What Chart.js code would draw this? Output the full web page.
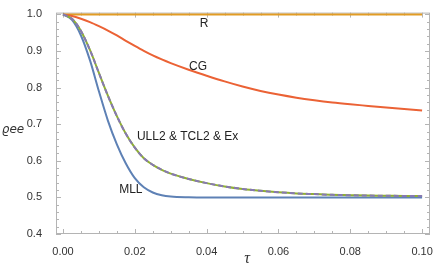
<!DOCTYPE html>
<html><head><meta charset="utf-8">
<script src="https://cdn.jsdelivr.net/npm/chart.js@4/dist/chart.umd.min.js"></script>
<style>html,body{margin:0;padding:0;background:#fff}#wrap{width:436px;height:268px}</style>
</head><body><div id="wrap"><canvas id="c" width="436" height="268"></canvas></div>
<script>
const tau = [0,0.0025,0.005,0.0075,0.01,0.0125,0.015,0.0175,0.02,0.0225,0.025,0.0275,0.03,0.035,0.04,0.045,0.05,0.055,0.06,0.065,0.07,0.075,0.08,0.085,0.09,0.095,0.1];
const rhoR   = [0.9995,0.9995,0.9995,0.9995,0.9995,0.9995,0.9995,0.9995,0.9995,0.9995,0.9995,0.9995,0.9995,0.9995,0.9995,0.9995,0.9995,0.9995,0.9995,0.9995,0.9995,0.9995,0.9995,0.9995,0.9995,0.9995,0.9995];
const rhoCG  = [1,0.9955,0.988,0.979,0.968,0.956,0.9425,0.928,0.914,0.9005,0.888,0.877,0.867,0.849,0.8325,0.817,0.803,0.791,0.781,0.7725,0.7655,0.7595,0.7545,0.75,0.7455,0.7415,0.7375];
const rhoMLL = [1,0.985,0.9425,0.875,0.79,0.71,0.645,0.5925,0.5525,0.5275,0.5135,0.506,0.5025,0.5005,0.5,0.5,0.5,0.5,0.5,0.5,0.5,0.5,0.5,0.5,0.5,0.5,0.5];
const rhoULL2 = [1,0.988,0.955,0.903,0.84,0.778,0.722,0.674,0.636,0.607,0.589,0.5755,0.565,0.5505,0.539,0.530,0.523,0.518,0.514,0.511,0.509,0.507,0.506,0.505,0.5045,0.504,0.504];
const rhoTCL2 = [1,0.988,0.955,0.903,0.84,0.778,0.722,0.674,0.636,0.607,0.589,0.5755,0.565,0.5505,0.539,0.530,0.523,0.518,0.514,0.511,0.509,0.507,0.506,0.505,0.5045,0.504,0.504];
const xTicks = [0,0.02,0.04,0.06,0.08,0.1];
const xTickLabels = ["0.00","0.02","0.04","0.06","0.08","0.10"];
const yTicks = [0.4,0.5,0.6,0.7,0.8,0.9,1.0];
const yTickLabels = ["0.4","0.5","0.6","0.7","0.8","0.9","1.0"];

const pts = v => tau.map((t,i)=>({x:t,y:v[i]}));

const frame = {
  id:'frame',
  beforeDatasetsDraw(chart){
    const {ctx, chartArea:a, scales:{x,y}} = chart;
    ctx.save();
    ctx.strokeStyle = '#b4b4b4'; ctx.lineWidth = 1;
    ctx.strokeRect(a.left+0.5, a.top+0.5, a.right-a.left-1, a.bottom-a.top-1);
    ctx.beginPath();
    for (let k=0;k<=20;k++){
      const v = k*0.005, px = Math.round(x.getPixelForValue(v))+0.5;
      const L = (k%4===0)?5:3;
      ctx.moveTo(px,a.bottom); ctx.lineTo(px,a.bottom-L);
      ctx.moveTo(px,a.top); ctx.lineTo(px,a.top+L);
    }
    for (let k=0;k<=30;k++){
      const v = 0.4+k*0.02, py = Math.round(y.getPixelForValue(v))+0.5;
      const L = (k%5===0)?5:3;
      ctx.moveTo(a.left,py); ctx.lineTo(a.left+L,py);
      ctx.moveTo(a.right,py); ctx.lineTo(a.right-L,py);
    }
    ctx.stroke();
    ctx.restore();
  },
  afterDatasetsDraw(chart, args, opts){
    const {ctx, scales:{x,y}} = chart;
    ctx.save();
    ctx.fillStyle = '#222'; ctx.textAlign='center'; ctx.textBaseline='middle';
    ctx.font = '12px "Liberation Sans", Arial, sans-serif';
    for (const l of opts.labels){
      ctx.fillText(l.text, x.getPixelForValue(l.x), y.getPixelForValue(l.y));
    }
    ctx.font = 'italic 12px "DejaVu Sans", sans-serif';
    ctx.fillStyle = '#333';
    ctx.fillText('ϱee', 13, 130);
    ctx.font = 'italic 16px "Liberation Serif", serif';
    ctx.fillText('τ', 247, 259);
    ctx.restore();
  }
};

const tickFont = {family:'"Liberation Sans", Arial, sans-serif', size:11};
new Chart(document.getElementById('c'), {
  type:'line',
  data:{datasets:[
    {label:'TCL2', data:pts(rhoTCL2), borderColor:'#8778B3', borderDash:[5,3]},
    {label:'ULL2', data:pts(rhoULL2), borderColor:'#8FB032'},
    {label:'MLL', data:pts(rhoMLL), borderColor:'#5E81B5'},
    {label:'CG', data:pts(rhoCG), borderColor:'#EB6235'},
    {label:'R', data:pts(rhoR), borderColor:'#E19C24'}
  ]},
  options:{
    responsive:false, animation:false, devicePixelRatio:1,
    datasets:{line:{borderWidth:2, pointRadius:0, fill:false, cubicInterpolationMode:'monotone'}},
    layout:{padding:{top:4,right:6,left:0,bottom:0}},
    plugins:{legend:{display:false}, tooltip:{enabled:false},
      frame:{labels:[
        {text:'R', x:0.0393, y:0.974},
        {text:'CG', x:0.0376, y:0.858},
        {text:'ULL2 & TCL2 & Ex', x:0.0347, y:0.666},
        {text:'MLL', x:0.0189, y:0.521}
      ]}},
    scales:{
      x:{type:'linear', min:-0.00195, max:0.1022,
        afterBuildTicks:s=>{s.ticks = xTicks.map(v=>({value:v}));},
        afterFit:s=>{s.height=34;},
        ticks:{callback:(v,i)=>xTickLabels[i], padding:3, font:tickFont, color:'#333', maxRotation:0, autoSkip:false},
        grid:{display:false}, border:{display:false}},
      y:{type:'linear', min:0.4, max:1.005,
        afterBuildTicks:s=>{s.ticks = yTicks.map(v=>({value:v}));},
        afterFit:s=>{s.width=56;},
        ticks:{callback:(v,i)=>yTickLabels[i], padding:6, font:tickFont, color:'#333', autoSkip:false},
        grid:{display:false}, border:{display:false}}
    }
  },
  plugins:[frame]
});
</script></body></html>
